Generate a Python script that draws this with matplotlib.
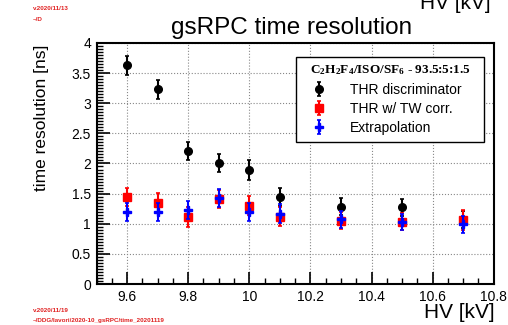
import matplotlib
matplotlib.use("Agg")
import matplotlib.pyplot as plt
from matplotlib.ticker import MultipleLocator
from matplotlib.font_manager import FontProperties

plt.rcParams['font.family'] = ['Liberation Sans', 'DejaVu Sans']
plt.rcParams['mathtext.fontset'] = 'custom'
plt.rcParams['mathtext.rm'] = 'Liberation Serif:bold'
plt.rcParams['mathtext.it'] = 'Liberation Serif:bold'
plt.rcParams['mathtext.bf'] = 'Liberation Serif:bold'

hv = [9.6, 9.7, 9.8, 9.9, 10.0, 10.1, 10.3, 10.5, 10.7]
thr = [3.63, 3.23, 2.20, 2.01, 1.89, 1.44, 1.28, 1.27, 1.07]
thr_err = [0.16, 0.16, 0.15, 0.15, 0.16, 0.15, 0.14, 0.14, 0.14]
tw = [1.45, 1.35, 1.11, 1.41, 1.30, 1.12, 1.05, 1.035, 1.06]
tw_err = [0.15, 0.16, 0.17, 0.15, 0.16, 0.15, 0.14, 0.14, 0.16]
ext = [1.19, 1.20, 1.23, 1.42, 1.20, 1.17, 1.075, 1.03, 0.99]
ext_err = [0.15, 0.15, 0.15, 0.15, 0.15, 0.15, 0.14, 0.14, 0.14]

fig = plt.figure(figsize=(5.08, 3.25), dpi=100)
ax = fig.add_axes([0.190, 0.126, 0.782, 0.742])

h1 = ax.errorbar(hv, thr, yerr=thr_err, fmt='o', color='black', ms=5.5,
                 elinewidth=1.5, capsize=1.5, capthick=1.2, zorder=3)
h2 = ax.errorbar(hv, tw, yerr=tw_err, fmt='s', color='red', ms=5.5,
                 elinewidth=1.5, capsize=1.5, capthick=1.2, zorder=4)
h3 = ax.errorbar(hv, ext, yerr=ext_err, fmt='P', color='blue', ms=6,
                 elinewidth=1.5, capsize=1.5, capthick=1.2, zorder=5)

ax.set_xlim(9.5, 10.8)
ax.set_ylim(0, 4)
ax.xaxis.set_minor_locator(MultipleLocator(0.05))
ax.yaxis.set_minor_locator(MultipleLocator(0.05))
ax.set_xticks([9.6, 9.8, 10.0, 10.2, 10.4, 10.6, 10.8])
ax.set_xticklabels(['9.6', '9.8', '10', '10.2', '10.4', '10.6', '10.8'])
ax.set_yticks([0, 0.5, 1, 1.5, 2, 2.5, 3, 3.5, 4])
ax.set_yticklabels(['0', '0.5', '1', '1.5', '2', '2.5', '3', '3.5', '4'])
ax.tick_params(which='both', direction='in', top=False, right=False, labelsize=10, pad=4)
ax.tick_params(which='major', length=9, width=1.2)
ax.tick_params(which='minor', length=4.5, width=1.0)
ax.grid(True, which='major', linestyle=':', color='#888888', linewidth=0.8)
for s in ax.spines.values():
    s.set_linewidth(1.5)

ax.set_ylabel('time resolution [ns]', fontsize=12.5)
ax.yaxis.set_label_coords(-0.12, 0.69)
fig.text(0.973, 0.01, 'HV [kV]', fontsize=15, ha='right', va='bottom')
fig.text(0.965, 1 - 9 / 325, 'HV [kV]', fontsize=15, ha='right', va='baseline')
fig.text(0.573, 0.915, 'gsRPC time resolution', fontsize=17.5, ha='center', va='center')

red = '#e02020'
fig.text(0.065, 0.975, 'v.2020/11/13', fontsize=4.5, color=red, weight='bold', va='center')
fig.text(0.065, 0.94, '~/D', fontsize=4.5, color=red, weight='bold', va='center')
fig.text(0.065, 0.045, 'v.2020/11/19', fontsize=4.5, color=red, weight='bold', va='center')
fig.text(0.065, 0.015, '~/DDG/lavori/2020-10_gsRPC/time_20201119', fontsize=4.5, color=red,
         weight='bold', va='center')

leg = ax.legend([h1, h2, h3], ['THR discriminator', 'THR w/ TW corr.', 'Extrapolation'],
                title='C$_2$H$_2$F$_4$/ISO/SF$_6$ - 93.5:5:1.5',
                title_fontproperties=FontProperties(family='Liberation Serif', weight='bold', size=9.5),
                loc='upper left', bbox_to_anchor=(0.502, 0.0, 0.473, 0.94), mode='expand',
                fontsize=10, fancybox=False, edgecolor='black', framealpha=1,
                handlelength=2.4, handletextpad=1.05, borderpad=0.45, labelspacing=0.38,
                borderaxespad=0)
leg.get_frame().set_linewidth(1.0)

fig.savefig('out.png', dpi=100)
